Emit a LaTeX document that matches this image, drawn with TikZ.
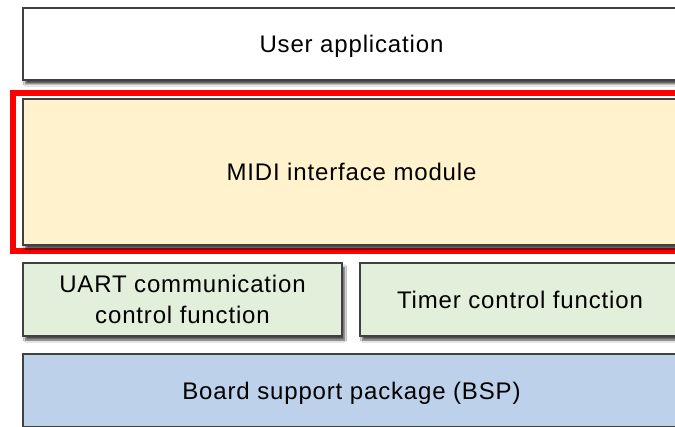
\documentclass[tikz,border=0pt]{standalone}
\usepackage{fontspec}
\setmainfont{Liberation Sans}
\newfontfamily\lsfont[LetterSpace=3.5]{Liberation Sans}
\usetikzlibrary{shadows.blur}
\definecolor{midifill}{HTML}{FFF2CC}
\definecolor{greenfill}{HTML}{E2EFDA}
\definecolor{bluefill}{HTML}{BDD1EA}
\definecolor{edge}{HTML}{404040}
\tikzset{
  layer/.style={draw=edge, line width=1.2pt, rectangle, inner sep=0pt, outer sep=0pt,
    align=center, font=\lsfont\fontsize{24}{31}\selectfont, text=black,
    blur shadow={shadow xshift=2.5pt, shadow yshift=-4pt, shadow blur steps=6, shadow opacity=70}},
  oneline/.style={text height=17.2pt, text depth=0pt},
  redframe/.style={draw=red, line width=6pt, rectangle, inner sep=0pt, outer sep=0pt}
}
\begin{document}
\begin{tikzpicture}[x=1pt, y=-1pt]
\useasboundingbox (0,0) rectangle (675,427);
\clip (0,0) rectangle (675,427);
\fill[white] (0,0) rectangle (675,427);
\node[layer, oneline, fill=white, minimum width=657pt, minimum height=72pt] (user) at (351.5,44) {User application};
\node[redframe, minimum width=677pt, minimum height=158pt] (frame) at (351.5,172) {};
\node[layer, oneline, fill=midifill, minimum width=657pt, minimum height=146pt] (midi) at (351.5,172) {MIDI interface module};
\node[layer, fill=greenfill, minimum width=319pt, minimum height=73pt] (uart) at (182.5,299.5) {UART communication\\control function};
\node[layer, oneline, fill=greenfill, minimum width=320pt, minimum height=73pt] (timer) at (520,299.5) {Timer control function};
\node[layer, oneline, fill=bluefill, minimum width=657pt, minimum height=73pt] (bsp) at (351.5,390.5) {Board support package (BSP)};
\end{tikzpicture}
\end{document}
